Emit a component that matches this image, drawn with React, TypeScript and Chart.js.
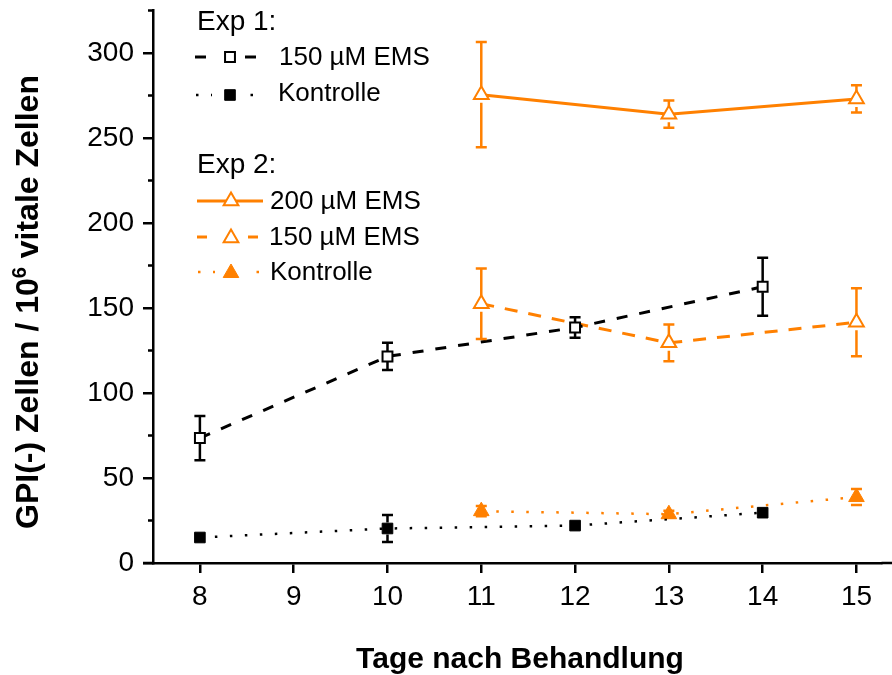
import React, { useEffect, useRef } from 'react';
import { Chart, registerables } from 'chart.js';

Chart.register(...registerables);

// ---------- data ----------
const DAYS_EXP1 = [8, 10, 12, 14];
const DAYS_EXP2 = [11, 13, 15];

const EXP1_EMS150 = [73.5, 121.5, 138.5, 162.5];
const EXP1_EMS150_ERR = [13, 8, 6, 17];
const EXP1_CTRL = [15, 20.3, 22, 29.6];
const EXP1_CTRL_ERR = [0, 8, 0, 0];

const EXP2_EMS200 = [275.5, 264, 273];
const EXP2_EMS200_ERR = [31, 8, 8];
const EXP2_EMS150 = [152.5, 129.5, 141.6];
const EXP2_EMS150_ERR = [20.8, 10.8, 20];
const EXP2_CTRL = [30.5, 28.7, 38.8];
const EXP2_CTRL_ERR = [3, 2, 4.7];

const X_TICKS = [8, 9, 10, 11, 12, 13, 14, 15];
const Y_TICKS = [0, 50, 100, 150, 200, 250, 300];
const Y_MINOR = [25, 75, 125, 175, 225, 275, 325];

const X_TITLE = 'Tage nach Behandlung';
const Y_TITLE_A = 'GPI(-) Zellen / 10';
const Y_TITLE_SUP = '6';
const Y_TITLE_B = ' vitale Zellen';

const EXP1_HEADER = 'Exp 1:';
const EXP2_HEADER = 'Exp 2:';
const LBL_EMS150 = '150 µM EMS';
const LBL_EMS200 = '200 µM EMS';
const LBL_CTRL = 'Kontrolle';

// ---------- styles ----------
const ORANGE = '#ff8000';
const BLACK = '#000000';
const FONT = '"Liberation Sans", Arial, Helvetica, sans-serif';

type Series = {
  label: string;
  xs: number[];
  ys: number[];
  err: number[];
  color: string;
  dash: number[];
  lineWidth: number;
  pointStyle: 'rect' | 'triangle';
  filled: boolean;
  radius: number;
  gap: number;
};

const SERIES: Series[] = [
  { label: 'Exp1 ' + LBL_EMS150, xs: DAYS_EXP1, ys: EXP1_EMS150, err: EXP1_EMS150_ERR, color: BLACK, dash: [11, 12], lineWidth: 3, pointStyle: 'rect', filled: false, radius: 7, gap: 5.5 },
  { label: 'Exp1 ' + LBL_CTRL, xs: DAYS_EXP1, ys: EXP1_CTRL, err: EXP1_CTRL_ERR, color: BLACK, dash: [2.5, 12.5], lineWidth: 2.5, pointStyle: 'rect', filled: true, radius: 7.5, gap: 6 },
  { label: 'Exp2 ' + LBL_EMS200, xs: DAYS_EXP2, ys: EXP2_EMS200, err: EXP2_EMS200_ERR, color: ORANGE, dash: [], lineWidth: 3, pointStyle: 'triangle', filled: false, radius: 8.5, gap: 8 },
  { label: 'Exp2 ' + LBL_EMS150, xs: DAYS_EXP2, ys: EXP2_EMS150, err: EXP2_EMS150_ERR, color: ORANGE, dash: [13, 11], lineWidth: 3, pointStyle: 'triangle', filled: false, radius: 8.5, gap: 8 },
  { label: 'Exp2 ' + LBL_CTRL, xs: DAYS_EXP2, ys: EXP2_CTRL, err: EXP2_CTRL_ERR, color: ORANGE, dash: [2.5, 12.5], lineWidth: 2.5, pointStyle: 'triangle', filled: true, radius: 9, gap: 8.5 },
];

function drawMarker(ctx: CanvasRenderingContext2D, s: Series, x: number, y: number) {
  ctx.save();
  ctx.setLineDash([]);
  ctx.fillStyle = s.filled ? s.color : '#ffffff';
  ctx.strokeStyle = s.color;
  ctx.lineWidth = s.filled ? 1 : 2;
  ctx.beginPath();
  if (s.pointStyle === 'rect') {
    const h = Math.SQRT1_2 * s.radius;
    ctx.rect(x - h, y - h, 2 * h, 2 * h);
  } else {
    const r = s.radius;
    ctx.moveTo(x, y - r);
    ctx.lineTo(x + r * Math.sin(2 * Math.PI / 3), y - r * Math.cos(2 * Math.PI / 3));
    ctx.lineTo(x + r * Math.sin(4 * Math.PI / 3), y - r * Math.cos(4 * Math.PI / 3));
    ctx.closePath();
  }
  ctx.fill();
  ctx.stroke();
  ctx.restore();
}

function piece(ctx: CanvasRenderingContext2D, s: Series, xa: number, xb: number, y: number) {
  ctx.save();
  ctx.strokeStyle = s.color;
  ctx.lineWidth = s.lineWidth;
  ctx.lineCap = 'butt';
  ctx.setLineDash(s.dash);
  ctx.beginPath();
  ctx.moveTo(xa, y);
  ctx.lineTo(xb, y);
  ctx.stroke();
  ctx.restore();
}

const errorBarPlugin = {
  id: 'errorBars',
  afterDatasetsDraw(chart: any) {
    const ctx: CanvasRenderingContext2D = chart.ctx;
    const xs = chart.scales.x;
    const ys = chart.scales.y;
    const cap = 5.5;
    SERIES.forEach((s) => {
      ctx.save();
      ctx.strokeStyle = s.color;
      ctx.lineWidth = 2.5;
      ctx.setLineDash([]);
      s.xs.forEach((xv, i) => {
        const e = s.err[i];
        if (!e) return;
        const px = xs.getPixelForValue(xv);
        const py = ys.getPixelForValue(s.ys[i]);
        const top = ys.getPixelForValue(s.ys[i] + e);
        const bot = ys.getPixelForValue(s.ys[i] - e);
        ctx.beginPath();
        if (py - top > s.gap) { ctx.moveTo(px, py - s.gap); ctx.lineTo(px, top); }
        if (bot - py > s.gap) { ctx.moveTo(px, py + s.gap); ctx.lineTo(px, bot); }
        ctx.moveTo(px - cap, top); ctx.lineTo(px + cap, top);
        ctx.moveTo(px - cap, bot); ctx.lineTo(px + cap, bot);
        ctx.stroke();
      });
      ctx.restore();
    });
  },
};

const decorPlugin = {
  id: 'decor',
  afterDraw(chart: any) {
    const ctx: CanvasRenderingContext2D = chart.ctx;
    const ys = chart.scales.y;
    const area = chart.chartArea;
    ctx.save();
    // minor y ticks
    ctx.strokeStyle = BLACK;
    ctx.lineWidth = 2.5;
    ctx.beginPath();
    Y_MINOR.forEach((v) => {
      const y = ys.getPixelForValue(v);
      ctx.moveTo(area.left - 5, y);
      ctx.lineTo(area.left, y);
    });
    // x-axis runs a little past the y-axis and on to the right edge
    ctx.moveTo(area.left - 10, area.bottom);
    ctx.lineTo(area.left, area.bottom);
    ctx.moveTo(area.right, area.bottom);
    ctx.lineTo(chart.width, area.bottom);
    ctx.stroke();

    // x title
    ctx.fillStyle = BLACK;
    ctx.font = 'bold 30px ' + FONT;
    ctx.textAlign = 'center';
    ctx.textBaseline = 'middle';
    ctx.fillText(X_TITLE, 520, 660);

    // y title with superscript
    const mainFont = 'bold 32px ' + FONT;
    const supFont = 'bold 20px ' + FONT;
    ctx.font = mainFont;
    const wA = ctx.measureText(Y_TITLE_A).width;
    const wB = ctx.measureText(Y_TITLE_B).width;
    ctx.font = supFont;
    const wS = ctx.measureText(Y_TITLE_SUP).width;
    const total = wA + wS + wB;
    ctx.translate(27, 302);
    ctx.rotate(-Math.PI / 2);
    ctx.textAlign = 'left';
    ctx.textBaseline = 'alphabetic';
    let cx = -total / 2;
    const base = 11;
    ctx.font = mainFont;
    ctx.fillText(Y_TITLE_A, cx, base);
    cx += wA;
    ctx.font = supFont;
    ctx.fillText(Y_TITLE_SUP, cx, base - 12);
    cx += wS;
    ctx.font = mainFont;
    ctx.fillText(Y_TITLE_B, cx, base);
    ctx.restore();

    // legend
    ctx.save();
    ctx.fillStyle = BLACK;
    ctx.textAlign = 'left';
    ctx.textBaseline = 'middle';
    ctx.font = '28px ' + FONT;
    ctx.fillText(EXP1_HEADER, 197, 22);
    ctx.fillText(EXP2_HEADER, 197, 165);
    ctx.font = '26px ' + FONT;
    ctx.fillText(LBL_EMS150, 279, 58);
    ctx.fillText(LBL_CTRL, 278, 94);
    ctx.fillText(LBL_EMS200, 270, 202);
    ctx.fillText(LBL_EMS150, 269, 238);
    ctx.fillText(LBL_CTRL, 270, 273);
    ctx.restore();

    // legend samples
    const [s1, s2, s3, s4, s5] = SERIES;
    piece(ctx, s1, 195, 208, 57); piece(ctx, s1, 256, 243, 57); drawMarker(ctx, s1, 230, 57);
    piece(ctx, s2, 196, 212, 95); piece(ctx, s2, 253, 240, 95); drawMarker(ctx, s2, 230, 95);
    piece(ctx, s3, 197, 263, 201); drawMarker(ctx, s3, 231, 201);
    piece(ctx, s4, 197, 207, 237); piece(ctx, s4, 258, 248, 237); drawMarker(ctx, s4, 231, 238);
    piece(ctx, s5, 198, 215, 272); piece(ctx, s5, 259, 244, 272); drawMarker(ctx, s5, 231, 273);
  },
};

const zeroPad = (scale: any) => {
  scale.paddingTop = 0;
  scale.paddingBottom = 0;
  scale.paddingLeft = 0;
  scale.paddingRight = 0;
};

export default function App() {
  const ref = useRef<HTMLCanvasElement>(null);
  useEffect(() => {
    const canvas = ref.current;
    if (!canvas) return;
    const datasets = SERIES.map((s) => ({
      label: s.label,
      data: s.xs.map((x, i) => ({ x, y: s.ys[i] })),
      showLine: true,
      borderColor: s.color,
      borderWidth: s.lineWidth,
      borderDash: s.dash,
      borderCapStyle: 'butt' as const,
      tension: 0,
      pointStyle: s.pointStyle,
      pointRadius: s.radius,
      pointHoverRadius: s.radius,
      pointBackgroundColor: s.filled ? s.color : '#ffffff',
      pointBorderColor: s.color,
      pointBorderWidth: s.filled ? 1 : 2,
      pointHoverBorderWidth: s.filled ? 1 : 2,
      clip: false as const,
    }));
    const chart = new Chart(canvas, {
      type: 'scatter',
      data: { datasets },
      options: {
        animation: false,
        responsive: false,
        devicePixelRatio: 1,
        events: [],
        layout: { padding: { top: 10, right: 0, left: 0, bottom: 0 } },
        plugins: { legend: { display: false }, tooltip: { enabled: false }, title: { display: false } },
        scales: {
          x: {
            type: 'linear',
            min: 7.5,
            max: 15.267,
            afterBuildTicks: (scale: any) => { scale.ticks = X_TICKS.map((v) => ({ value: v })); },
            afterFit: (scale: any) => { scale.height = 112; zeroPad(scale); },
            grid: { display: true, drawOnChartArea: false, drawTicks: true, tickLength: 10, tickWidth: 2.5, tickColor: BLACK, color: BLACK, lineWidth: 2.5 },
            border: { display: true, color: BLACK, width: 2.5 },
            ticks: { color: BLACK, font: { family: FONT, size: 28 }, padding: 7, maxRotation: 0, autoSkip: false },
          },
          y: {
            type: 'linear',
            min: 0,
            max: 325,
            afterBuildTicks: (scale: any) => { scale.ticks = Y_TICKS.map((v) => ({ value: v })); },
            afterFit: (scale: any) => { scale.width = 153; zeroPad(scale); },
            grid: { display: true, drawOnChartArea: false, drawTicks: true, tickLength: 10, tickWidth: 2.5, tickColor: BLACK, color: BLACK, lineWidth: 2.5 },
            border: { display: true, color: BLACK, width: 2.5 },
            ticks: { color: BLACK, font: { family: FONT, size: 28 }, padding: 9, autoSkip: false },
          },
        },
      },
      plugins: [errorBarPlugin, decorPlugin],
    } as any);
    return () => chart.destroy();
  }, []);
  return (
    <div style={{ position: 'absolute', left: 0, top: 0, width: 892, height: 675, background: '#ffffff' }}>
      <canvas ref={ref} width={892} height={675} style={{ width: 892, height: 675, display: 'block' }} />
    </div>
  );
}
